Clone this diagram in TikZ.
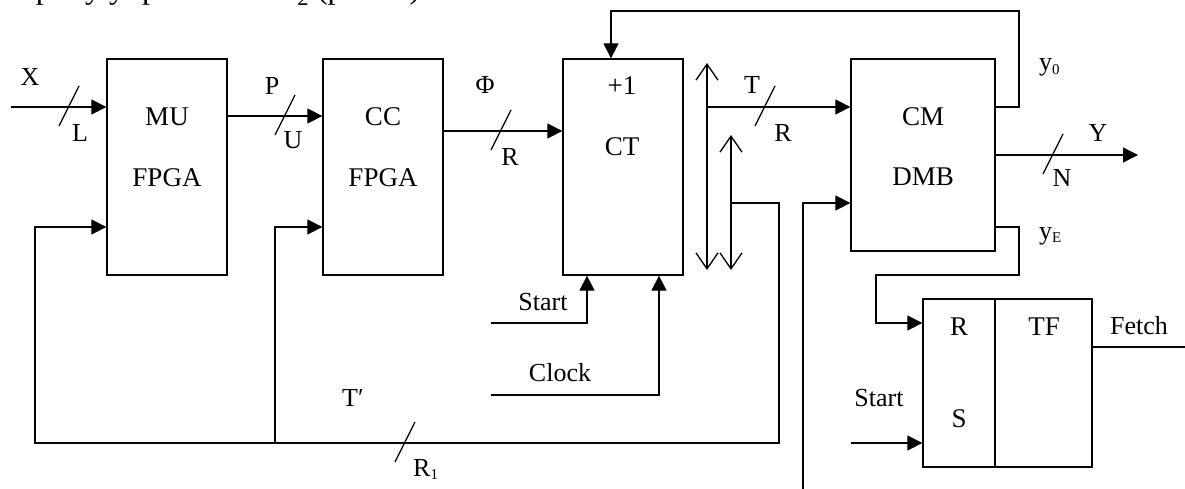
\documentclass[tikz,border=0pt]{standalone}
\usepackage{fontspec}
\setmainfont{Liberation Serif}
\usetikzlibrary{arrows.meta}
\tikzset{
  wire/.style={line width=1.3pt},
  arr/.style={wire,-{Triangle[length=15pt,width=15pt]}},
  bus/.style={wire,{Straight Barb[length=16pt,width=22pt,line width=1.3pt]}-{Straight Barb[length=16pt,width=22pt,line width=1.3pt]}},
  blk/.style={draw,line width=1.3pt,inner sep=0pt},
  lbl/.style={inner sep=0pt,font=\fontsize{26}{30}\selectfont},
  boxtxt/.style={inner sep=0pt,font=\fontsize{27}{31}\selectfont},
}
\newcommand\bustick[1]{\draw[wire] ([shift={(10,-21)}]#1) -- ([shift={(-10,19)}]#1);}
\newcommand\sbs[1]{\raisebox{-0.15em}{\fontsize{15}{15}\selectfont #1}}
\begin{document}
\begin{tikzpicture}[x=1pt,y=-1pt]
\useasboundingbox (0,0) rectangle (1185,489);
% cut-off line of text above the figure
\begin{scope}
\clip (0,0) rectangle (1185,489);
\node[anchor=base west,inner sep=0pt,font=\fontsize{32}{36}\selectfont] (intro) at (-8,-1) {сторону управления U\textsubscript{2} (рис. 2).};
\end{scope}
% blocks
\node[blk,minimum width=120pt,minimum height=216pt] (mu) at (167,167) {};
\node[boxtxt] (mut) at (167,117) {MU};
\node[boxtxt] (muf) at (167,178) {FPGA};
\node[blk,minimum width=120pt,minimum height=216pt] (cc) at (383,167) {};
\node[boxtxt] (cct) at (383,117) {CC};
\node[boxtxt] (ccf) at (383,178) {FPGA};
\node[blk,minimum width=120pt,minimum height=216pt] (ct) at (623,167) {};
\node[boxtxt] (ctp) at (622,86) {+1};
\node[boxtxt] (ctt) at (622,147) {CT};
\node[blk,minimum width=144pt,minimum height=192pt] (cm) at (923,155) {};
\node[boxtxt] (cmt) at (923,117) {CM};
\node[boxtxt] (cmd) at (923,177) {DMB};
\node[blk,minimum width=72pt,minimum height=168pt] (rs) at (959,383) {};
\node[blk,minimum width=97pt,minimum height=168pt] (tf) at (1043.5,383) {};
\node[boxtxt] (rsr) at (959,327) {R};
\node[boxtxt] (rss) at (959,419) {S};
\node[boxtxt] (tft) at (1044,327) {TF};
% X input
\coordinate (xin) at (11,107);
\draw[arr] (xin) -- (xin -| mu.west);
\coordinate (tX) at (69,107); \bustick{tX}
\node[lbl] (lX) at (30,77) {X};
\node[lbl] (lL) at (80,133) {L};
% MU -> CC
\draw[arr] (mu.east |- 0,116) -- (cc.west |- 0,116);
\coordinate (tP) at (285,116); \bustick{tP}
\node[lbl] (lP) at (272,86) {P};
\node[lbl] (lU) at (293,140) {U};
% CC -> CT
\draw[arr] (cc.east |- 0,131) -- (ct.west |- 0,131);
\coordinate (tF) at (501,131); \bustick{tF}
\node[lbl] (lF) at (485,85) {Φ};
\node[lbl] (lR1) at (510,157) {R};
% buses
\coordinate (b1t) at (707,63); \coordinate (b1b) at (707,270);
\draw[bus] (b1t) -- (b1b);
\coordinate (b2t) at (731,135); \coordinate (b2b) at (731,270);
\draw[bus] (b2t) -- (b2b);
% T -> CM
\coordinate (tj) at (707,107);
\draw[arr] (tj) -- (tj -| cm.west);
\coordinate (tT) at (765,107); \bustick{tT}
\node[lbl] (lT) at (752,85) {T};
\node[lbl] (lR2) at (783,133) {R};
% feedback T'
\coordinate (fj) at (731,203);
\draw[arr] (fj) -- (779,203) -- (779,443) -- (35,443) -- (35,227) -- (mu.west |- 0,227);
\coordinate (jn) at (275,443);
\draw[arr] (jn) -- (275,227) -- (cc.west |- 0,227);
\coordinate (tR) at (405,443); \bustick{tR}
\node[lbl] (lTp) at (353,398) {T′};
\node[lbl,anchor=base west] (lR3) at (413,476) {R\sbs{1}};
% Start / Clock to CT
\coordinate (st1) at (491,323);
\draw[arr] (st1) -| (ct.south -| 587,0);
\node[lbl] (lSt1) at (543,302) {Start};
\coordinate (clk) at (491,395);
\draw[arr] (clk) -| (ct.south -| 659,0);
\node[lbl] (lClk) at (560,373) {Clock};
% y0 feedback
\draw[arr] (cm.east |- 0,107) -- (1019,107) -- (1019,11) -| (ct.north -| 611,0);
\node[lbl,anchor=base west] (ly0) at (1039,71) {y\sbs{0}};
% Y output
\coordinate (yout) at (1138,155);
\draw[arr] (cm.east |- yout) -- (yout);
\coordinate (tY) at (1053,155); \bustick{tY}
\node[lbl] (lY) at (1098,133) {Y};
\node[lbl] (lN) at (1062,178) {N};
% yE
\draw[arr] (cm.east |- 0,227) -- (1019,227) -- (1019,275) -- (876,275) |- (rs.west |- 0,323);
\node[lbl,anchor=base west] (lyE) at (1039,239) {y\sbs{E}};
% Start to RS
\coordinate (st2) at (851,443);
\draw[arr] (st2) -- (st2 -| rs.west);
\node[lbl] (lSt2) at (879,398) {Start};
% Fetch
\coordinate (fout) at (1185,347);
\draw[wire] (tf.east |- fout) -- (fout);
\node[lbl] (lFe) at (1139,326) {Fetch};
% CM lower input
\coordinate (cmin) at (803,490);
\draw[arr] (cmin) |- (cm.west |- 0,203);
\end{tikzpicture}
\end{document}
